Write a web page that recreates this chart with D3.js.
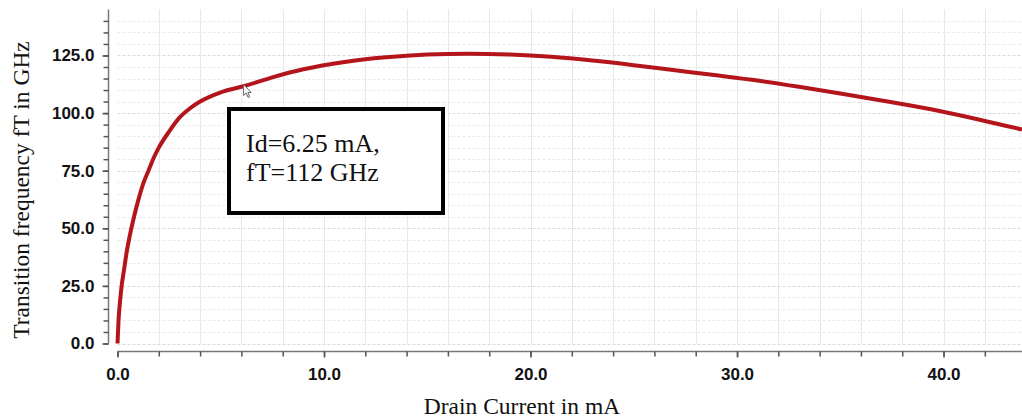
<!DOCTYPE html>
<html>
<head>
<meta charset="utf-8">
<script src="https://cdn.jsdelivr.net/npm/d3@7"></script>
<style>
  html, body { margin: 0; padding: 0; background: #fff; }
  svg { display: block; }
  .tick text { font-family: "Liberation Sans", Arial, sans-serif; font-weight: bold; font-size: 17px; fill: #111; }
  .title { font-family: "Liberation Serif", "Times New Roman", serif; font-size: 23.5px; fill: #111; }
  .note { font-family: "Liberation Serif", "Times New Roman", serif; font-size: 26px; fill: #111; }
</style>
</head>
<body>
<svg id="chart" width="1022" height="419"></svg>
<script>
// Drain current (mA) and transition frequency fT (GHz)
const drainCurrent = [0, 0.05, 0.12, 0.2, 0.3, 0.45, 0.6, 0.8, 1.0, 1.25, 1.5, 1.75, 2.0, 2.5, 3.0, 3.5, 4.0, 5.0, 6.25, 7.5, 9, 11, 13, 15, 17, 19, 21, 23, 25, 27, 29, 31, 33, 35, 37, 39, 41, 43, 43.8];
const transitionFreq = [0, 10, 18, 25, 31, 40, 47, 55, 62, 69.5, 75, 80.5, 85, 92, 98, 102, 105, 109, 112, 115.5, 119, 122.2, 124.2, 125.4, 125.8, 125.4, 124.4, 122.8, 120.8, 118.6, 116.4, 114.1, 111.4, 108.5, 105.5, 102.3, 98.6, 94.5, 92.9];

const xMajorTicks = [0, 10, 20, 30, 40];
const xMinorTicks = d3.range(0, 44, 2);
const yMajorTicks = [0, 25, 50, 75, 100, 125];
const yMinorTicks = d3.range(0, 145, 5);

// Annotated operating point
const markedCurrent = 6.25;
const markedFreq = 112;
const noteLines = ["Id=6.25 mA,", "fT=112 GHz"];

const svg = d3.select("#chart");
const W = 1022;

const x = d3.scaleLinear().domain([0, 43.8]).range([117.5, W]);
const y = d3.scaleLinear().domain([0, 145]).range([343.5, 9.4]);
const fmt = d3.format(".1f");

// Grid
const grid = svg.append("g");
grid.selectAll("line.v").data(xMinorTicks.filter(d => d > 0)).join("line")
  .attr("x1", d => Math.round(x(d)) + 0.5).attr("x2", d => Math.round(x(d)) + 0.5)
  .attr("y1", y(145)).attr("y2", y(0))
  .attr("stroke", "#e8e8e8").attr("stroke-width", 1);
grid.selectAll("line.h").data(yMinorTicks).join("line")
  .attr("x1", x(0)).attr("x2", W)
  .attr("y1", d => Math.round(y(d)) + 0.5).attr("y2", d => Math.round(y(d)) + 0.5)
  .attr("stroke", d => d % 25 === 0 ? "#dadada" : "#e9e9e9")
  .attr("stroke-dasharray", "3,2")
  .attr("stroke-width", 1);

// Y axis
const yAxisX = 108.5;
const yMinor = svg.append("g").attr("transform", `translate(${yAxisX},0)`)
  .call(d3.axisLeft(y).tickValues(yMinorTicks).tickSize(5).tickFormat(""));
const yMajor = svg.append("g").attr("transform", `translate(${yAxisX},0)`)
  .call(d3.axisLeft(y).tickValues(yMajorTicks).tickSize(6).tickPadding(8).tickFormat(fmt));
[yMinor, yMajor].forEach(g => {
  g.select(".domain").attr("stroke", "#777").attr("stroke-width", 1.5);
  g.selectAll(".tick line").attr("stroke", "#555").attr("stroke-width", 1.5);
});
yMinor.select(".domain").attr("d", `M0,${y(145)}V${y(0)}`);
yMajor.select(".domain").remove();

// X axis
const xAxisY = 351.5;
const xMinor = svg.append("g").attr("transform", `translate(0,${xAxisY})`)
  .call(d3.axisBottom(x).tickValues(xMinorTicks).tickSize(5).tickFormat(""));
const xMajor = svg.append("g").attr("transform", `translate(0,${xAxisY})`)
  .call(d3.axisBottom(x).tickValues(xMajorTicks).tickSize(6).tickPadding(10).tickFormat(fmt));
[xMinor, xMajor].forEach(g => {
  g.select(".domain").attr("stroke", "#777").attr("stroke-width", 1.5);
  g.selectAll(".tick line").attr("stroke", "#555").attr("stroke-width", 1.5);
});
xMinor.select(".domain").attr("d", `M${x(0)},0H${W}`);
xMajor.select(".domain").remove();

// Axis titles
svg.append("text").attr("class", "title")
  .attr("x", 522).attr("y", 414).attr("text-anchor", "middle")
  .text("Drain Current in mA");
svg.append("text").attr("class", "title")
  .attr("transform", "translate(29,190) rotate(-90)")
  .attr("text-anchor", "middle")
  .text("Transition frequency fT in GHz");

// fT curve
const pts = drainCurrent.map((d, i) => [d, transitionFreq[i]]);
const line = d3.line().x(d => x(d[0])).y(d => y(d[1])).curve(d3.curveMonotoneX);
svg.append("path").datum(pts)
  .attr("fill", "none")
  .attr("stroke", "#b3151b")
  .attr("stroke-width", 4)
  .attr("stroke-linejoin", "round")
  .attr("d", line);

// Pointer at the annotated point
const px = x(markedCurrent) - 3, py = y(markedFreq) - 1;
svg.append("path")
  .attr("transform", `translate(${px},${py})`)
  .attr("d", "M0,0 L0,11 L2.6,8.6 L4.6,13 L6.2,12.3 L4.3,8 L7.6,8 Z")
  .attr("fill", "#fff").attr("stroke", "#666").attr("stroke-width", 1);

// Annotation box
const note = svg.append("g");
note.append("rect")
  .attr("x", 229).attr("y", 109).attr("width", 214).attr("height", 104)
  .attr("fill", "#fff").attr("stroke", "#000").attr("stroke-width", 4);
note.selectAll("text").data(noteLines).join("text")
  .attr("class", "note")
  .attr("x", 246).attr("y", (d, i) => 152 + i * 28.5)
  .text(d => d);
</script>
</body>
</html>
